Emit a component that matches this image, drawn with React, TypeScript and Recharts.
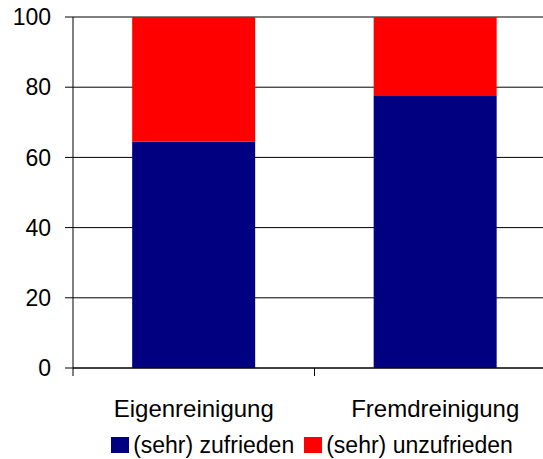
import React from "react";
import {
  BarChart,
  Bar,
  XAxis,
  YAxis,
  CartesianGrid,
  Legend,
} from "recharts";

const categories = ["Eigenreinigung", "Fremdreinigung"];
const zufrieden = [64.5, 77.5];
const unzufrieden = [35.5, 22.5];
const yTicks = [0, 20, 40, 60, 80, 100];
const seriesNames = ["(sehr) zufrieden", "(sehr) unzufrieden"];

const data = categories.map((name, i) => ({
  name,
  zufrieden: zufrieden[i],
  unzufrieden: unzufrieden[i],
}));

const FONT = '"Liberation Sans", Arial, sans-serif';

const LegendContent = (props: any) => {
  const items = [...(props.payload || [])].sort(
    (a: any, b: any) => seriesNames.indexOf(a.value) - seriesNames.indexOf(b.value)
  );
  return (
    <div
      style={{
        display: "flex",
        justifyContent: "center",
        alignItems: "center",
        height: 26,
        paddingLeft: 68,
        fontFamily: FONT,
        fontSize: 23,
        color: "#000",
      }}
    >
      {items.map((p: any, i: number) => (
        <span
          key={i}
          style={{ display: "flex", alignItems: "center", marginRight: i === 0 ? 10 : 0 }}
        >
          <span
            style={{ width: 18, height: 16, background: p.color, marginRight: 4, display: "inline-block" }}
          />
          {p.value}
        </span>
      ))}
    </div>
  );
};

// category label plus a tick mark at the band boundary (Excel style)
const CategoryTick = (props: any) => {
  const { x, y, payload, index, visibleTicksCount } = props;
  const half = payload.offset || 0;
  const top = y - 32;
  return (
    <g>
      <line x1={x - half} x2={x - half} y1={top} y2={top + 8} stroke="#000" />
      {index === visibleTicksCount - 1 && (
        <line x1={x + half} x2={x + half} y1={top} y2={top + 8} stroke="#000" />
      )}
      <text
        x={x}
        y={y}
        dy="0.71em"
        textAnchor="middle"
        fill="#000"
        fontSize={24}
        fontFamily={FONT}
      >
        {payload.value}
      </text>
    </g>
  );
};

const App = () => {
  return (
    <div style={{ position: "absolute", left: 0, top: 0 }}>
      <BarChart
        width={543}
        height={459}
        data={data}
        margin={{ top: 17, right: -13, left: 0, bottom: 1 }}
        barCategoryGap="24.5%"
      >
        <CartesianGrid vertical={false} stroke="#000" />
        <XAxis
          dataKey="name"
          height={64}
          stroke="#000"
          tickLine={false}
          tickSize={8}
          tickMargin={24}
          tick={<CategoryTick />}
        />
        <YAxis
          width={73}
          domain={[0, 100]}
          ticks={yTicks}
          stroke="#000"
          tickSize={8}
          tickMargin={14}
          tick={{ fill: "#000", fontSize: 23, fontFamily: FONT }}
        />
        <Legend verticalAlign="bottom" content={<LegendContent />} />
        <Bar
          dataKey="zufrieden"
          name={seriesNames[0]}
          stackId="a"
          fill="#000080"
          isAnimationActive={false}
        />
        <Bar
          dataKey="unzufrieden"
          name={seriesNames[1]}
          stackId="a"
          fill="#FF0000"
          isAnimationActive={false}
        />
      </BarChart>
    </div>
  );
};

export default App;
